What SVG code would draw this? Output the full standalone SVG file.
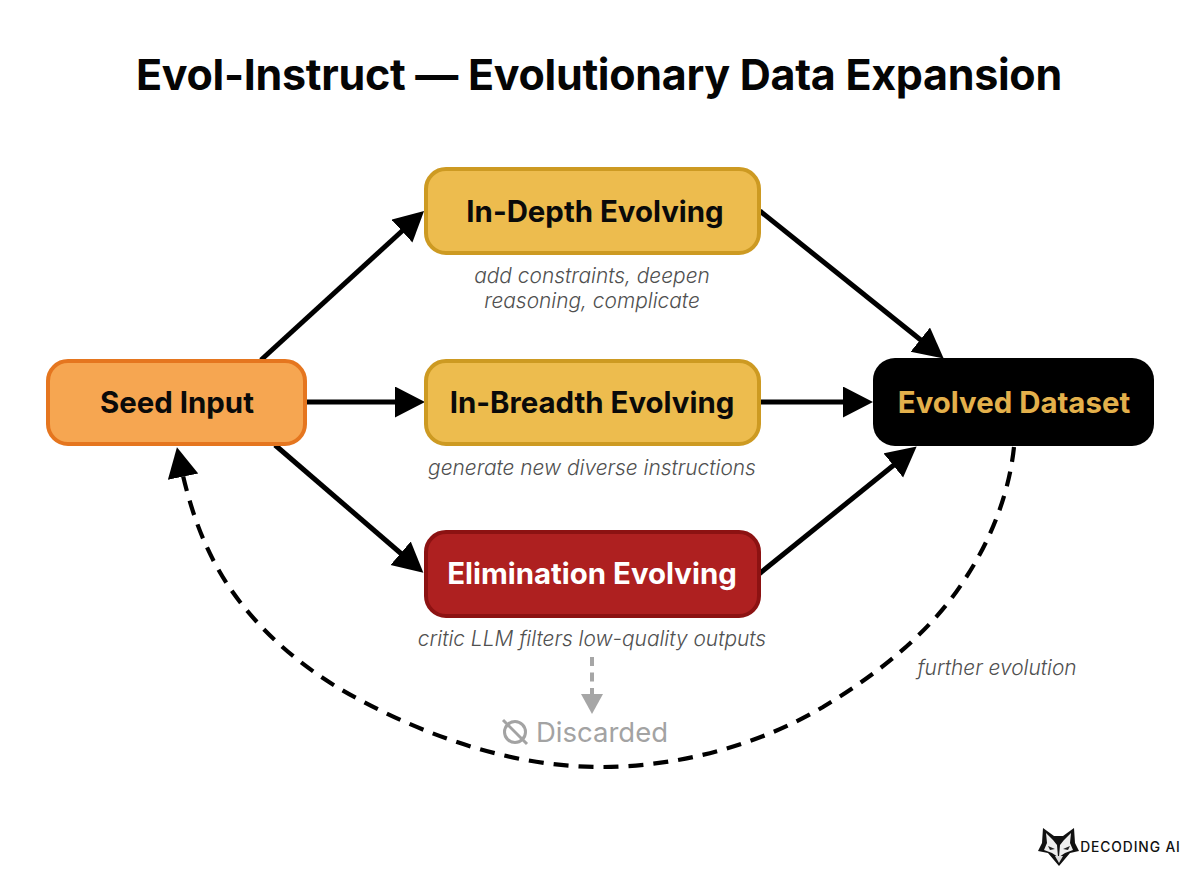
<svg xmlns="http://www.w3.org/2000/svg" width="1200" height="888" viewBox="0 0 1200 888">
<style>
text{font-family:Inter,"Liberation Sans",sans-serif;text-anchor:middle}
.t{font-weight:700;font-size:29.400px;fill:#0a0a0a}
.s{font-style:italic;font-weight:300;font-size:20.900px;fill:#505050}
.b{stroke-width:4}
.c{fill:none;stroke:#000;stroke-width:5}
</style>
<defs>
<marker id="a" markerUnits="userSpaceOnUse" markerWidth="32" markerHeight="33" refX="15" refY="15.500" orient="auto"><path d="M0 0L30 15.500L0 31Z" fill="#000"/></marker>
<marker id="g" markerUnits="userSpaceOnUse" markerWidth="22" markerHeight="24" refX="10" refY="11" orient="auto"><path d="M0 0L20 11L0 22Z" fill="#a6a6a6"/></marker>
</defs>
<rect width="1200" height="888" fill="#fff"/>
<text id="title" x="136" y="89.500" font-size="43" font-weight="700" fill="#050505" style="text-anchor:start" letter-spacing="-.3">Evol-Instruct — <tspan x="468">Evolutionary Data Expansion</tspan></text>
<g id="connectors">
<path class="c" d="M261 360L413 221" marker-end="url(#a)"/>
<path class="c" d="M307 402H410" marker-end="url(#a)"/>
<path class="c" d="M275 445L412 563" marker-end="url(#a)"/>
<path class="c" d="M760 211L932 349" marker-end="url(#a)"/>
<path class="c" d="M760 402H858" marker-end="url(#a)"/>
<path class="c" d="M759 574L905 456" marker-end="url(#a)"/>
<path d="M1014 447C1009 495 990 542 963 582C929 634 876 675 823 707C757 746 677 767 600 767C517 767 433 739 360 700C314 676 272 643 240 602C206 558 190 510 180 462" fill="none" stroke="#000" stroke-width="4.200" stroke-dasharray="15 10" marker-end="url(#a)"/>
<path d="M592 657V704" fill="none" stroke="#a6a6a6" stroke-width="4" stroke-dasharray="9 6.500" marker-end="url(#g)"/>
</g>
<g id="seed-input"><rect class="b" x="48" y="361" width="257" height="83" rx="20" fill="#f6a651" stroke="#e5761f"/><text class="t" x="177" y="413">Seed Input</text></g>
<g id="in-depth"><rect class="b" x="426" y="169" width="333" height="84" rx="20" fill="#edbc4e" stroke="#cd9a22"/><text class="t" x="595" y="222">In-Depth Evolving</text><text class="s" x="592" y="283">add constraints, deepen</text><text class="s" x="592" y="308">reasoning, complicate</text></g>
<g id="in-breadth"><rect class="b" x="426" y="361" width="333" height="83" rx="20" fill="#edbc4e" stroke="#cd9a22"/><text class="t" x="592" y="413">In-Breadth Evolving</text><text class="s" x="592" y="475">generate new diverse instructions</text></g>
<g id="elimination"><rect class="b" x="426" y="532" width="333" height="84" rx="20" fill="#ae2020" stroke="#8c1212"/><text class="t" x="592" y="584" style="fill:#fff">Elimination Evolving</text><text class="s" x="592" y="646">critic LLM filters low-quality outputs</text></g>
<g id="evolved-dataset"><rect x="873" y="358" width="281" height="88" rx="22" fill="#000"/><text class="t" x="1014" y="413" style="fill:#e3b04b">Evolved Dataset</text></g>
<g id="discarded"><circle cx="515" cy="732" r="10.500" fill="none" stroke="#a3a3a3" stroke-width="3"/><path d="M503 720L527 744" stroke="#a3a3a3" stroke-width="3"/><text x="602" y="742" font-size="27.500" fill="#a3a3a3">Discarded</text></g>
<text id="further" x="997" y="675" class="s">further evolution</text>
<g id="logo">
<path d="M1043 828L1054 836H1063L1074 828L1075 843L1079 851L1070 853L1059 866L1048 853L1038 851L1042 843Z" fill="#111"/>
<path d="M1046 833L1053 840L1057 845L1058 857L1052 853L1044 850L1047 843Z" fill="#eee"/>
<path d="M1071 833L1064 840L1060 845L1059 857L1065 853L1073 850L1070 843Z" fill="#eee"/>
<path d="M1055 856H1063L1059 863Z" fill="#ddd"/>
<path d="M1048 846L1055 849L1050 850ZM1070 846L1063 849L1068 850Z" fill="#222"/>
<text x="1130.500" y="852" font-size="13.800" font-weight="500" letter-spacing=".9" style="fill:#111">DECODING AI</text>
</g>
</svg>
